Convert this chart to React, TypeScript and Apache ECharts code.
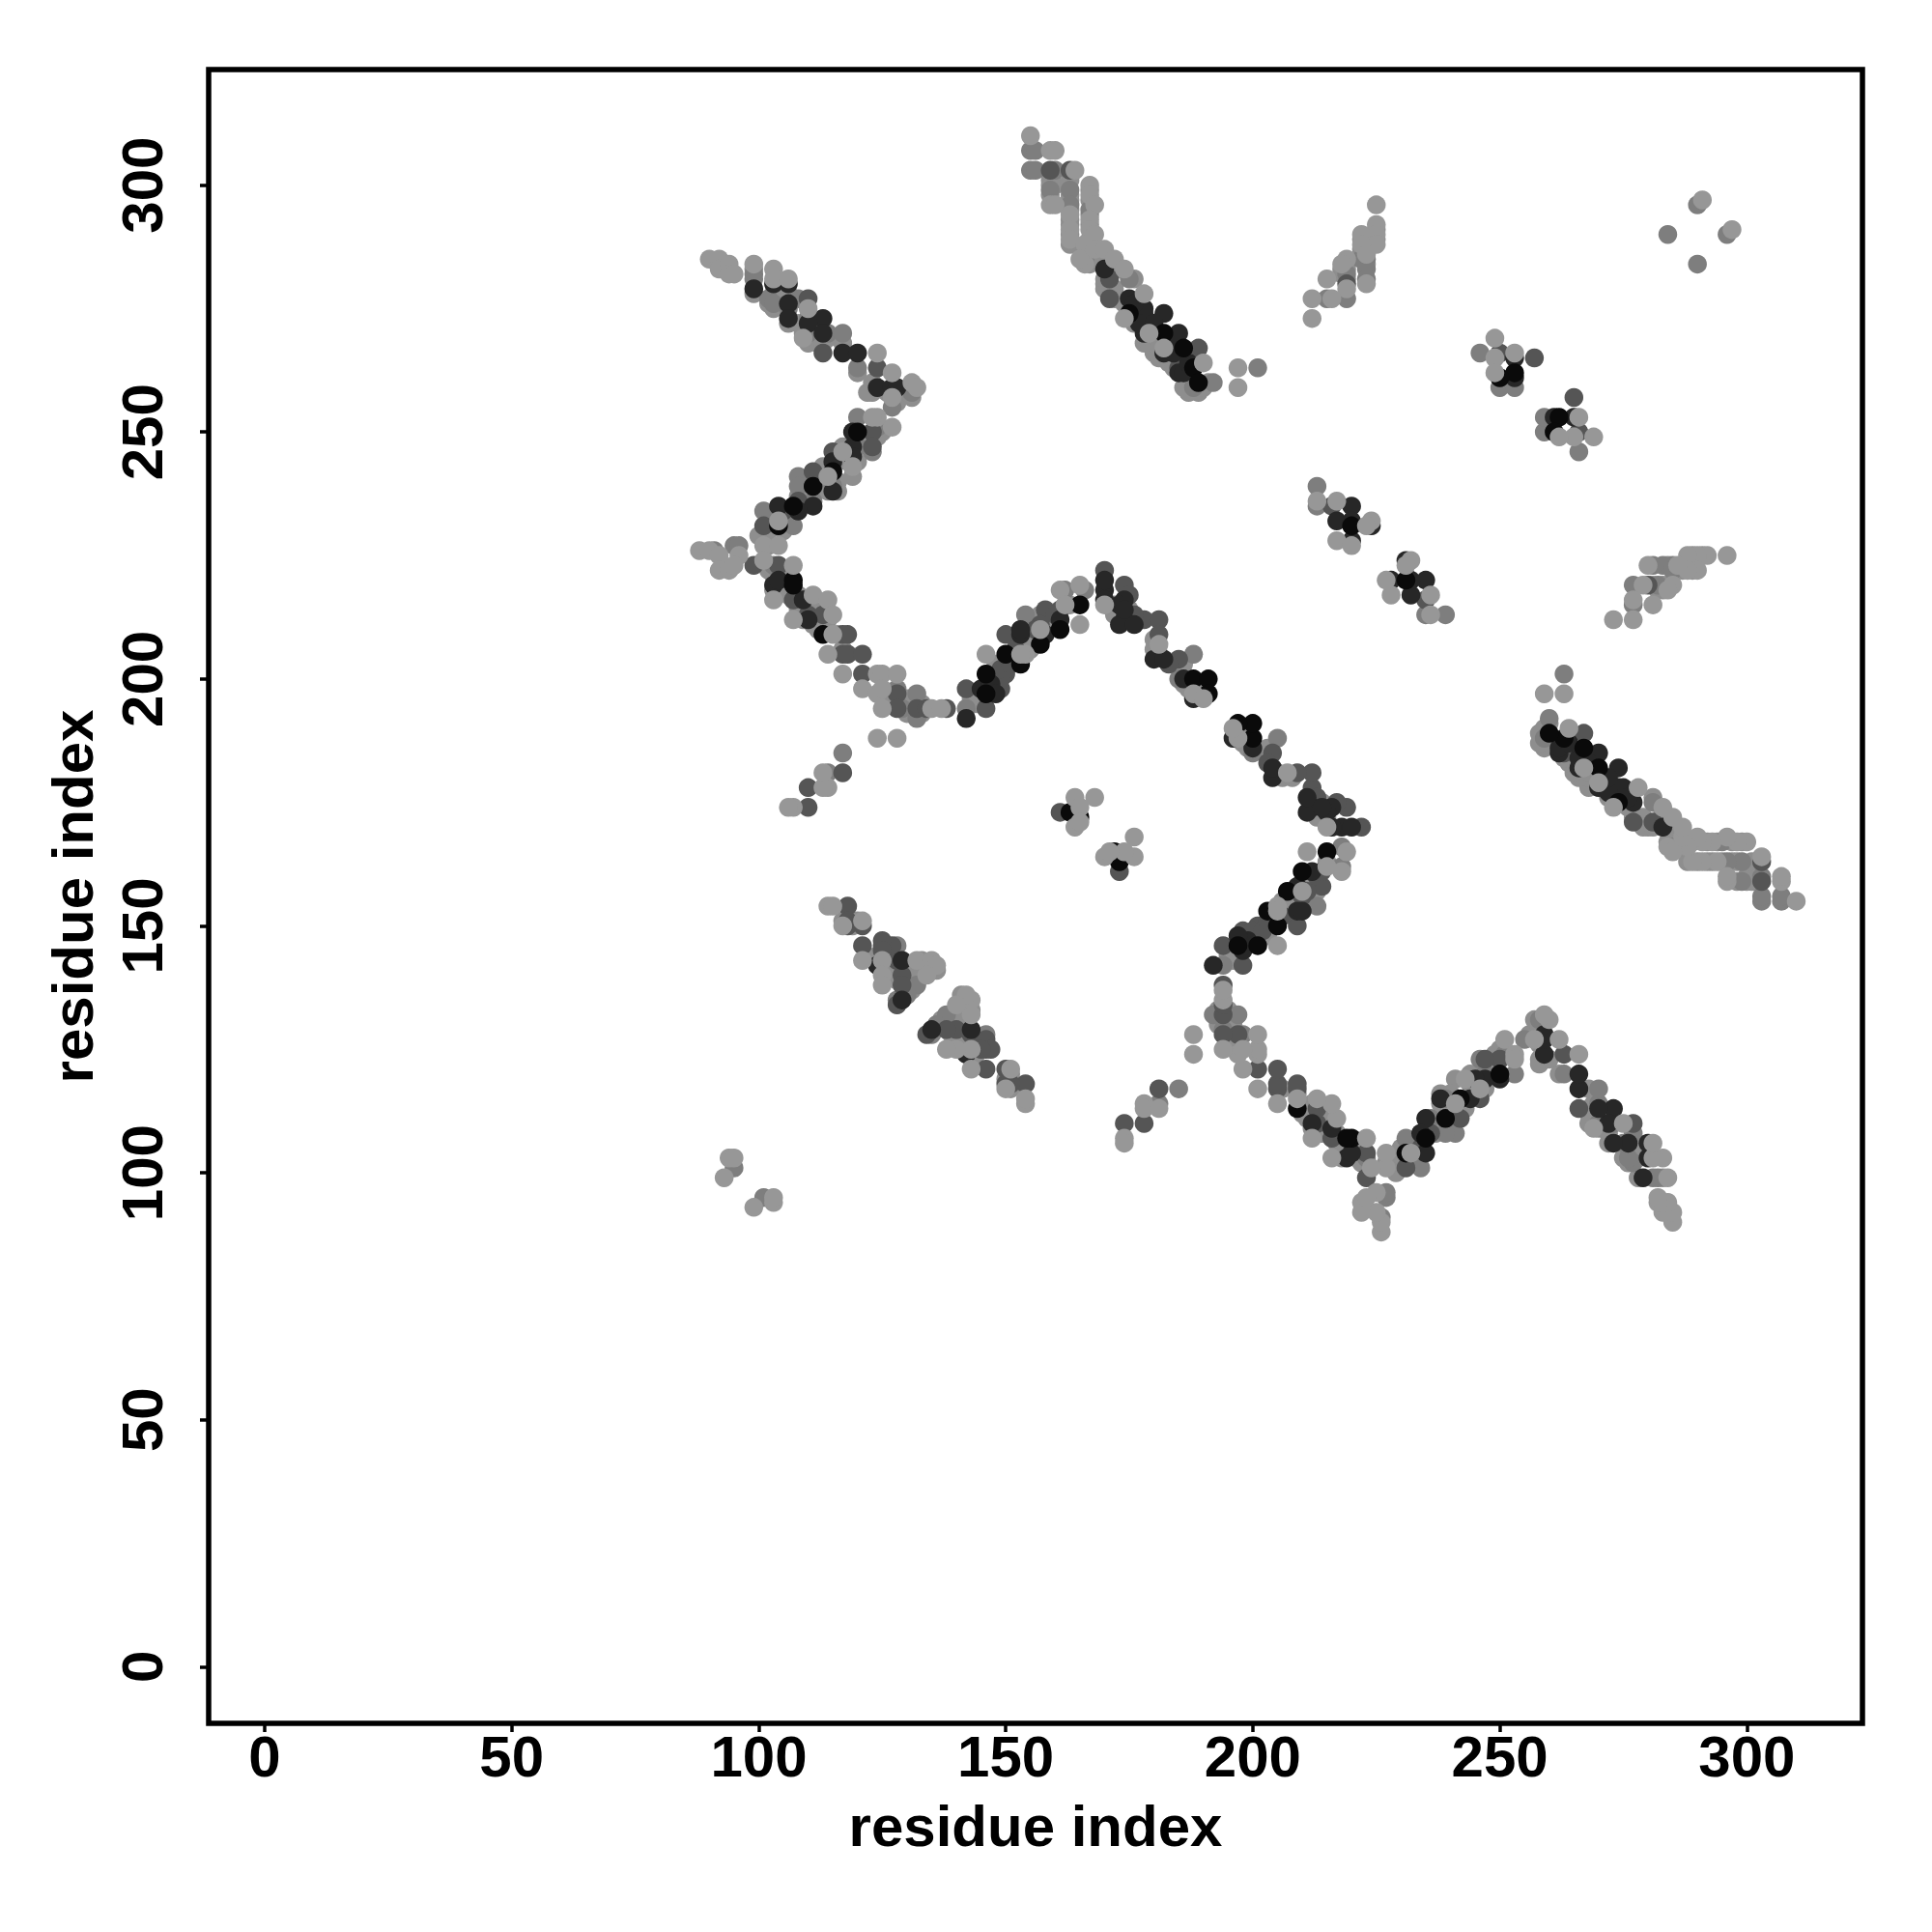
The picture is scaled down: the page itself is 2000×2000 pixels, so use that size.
import React, { useEffect, useRef } from "react";
import * as echarts from "echarts";

// Contact map: every pair is read once, as [i, j] with i < j; the map is symmetric, so [j, i] is drawn too.
const tickValues = [0, 50, 100, 150, 200, 250, 300];
const axisTitle = "residue index";

const underPairs = [
  [99,278],[99,283],[102,276],[103,275],[104,277],[103,278],[106,278],[106,272],[108,272],[109,270],[110,268],[112,268],[113,268],[114,269],[117,268],[120,262],[123,258],[122,258],[123,260],[128,256],[127,258],[126,258],[130,258],[131,257],
  [117,247],[118,244],[119,241],[120,244],[122,248],[124,249],[125,250],[113,240],[113,243],[114,238],[116,240],[116,238],[112,240],[110,240],[108,237],[106,233],[103,233],[102,230],[105,230],[100,229],[102,227],
  [159,301],[159,300],[159,298],[160,300],[163,301],[163,298],[163,297],[163,295],[163,293],[163,292],[163,290],[163,288],[167,299],[167,297],[167,294],[167,292],[167,289],[166,287],[166,286],[167,285],[167,284],[171,285],[172,283],[170,285],[173,283],[176,281],
  [170,280],[170,279],[170,281],[172,279],[172,277],[174,276],[176,275],[176,272],[178,268],[179,268],[180,266],[181,265],[183,264],[184,263],[186,259],[187,258],[189,258],[190,259],[191,260],[180,268],[181,268],
  [223,287],[223,284],[225,289],[225,291],[222,289],[222,287],[222,286],[219,284],[219,283],[219,281],[218,283],[218,282],
  [102,222],[103,221],[103,218],[105,218],[106,217],[105,221],[106,221],[108,214],[108,217],[109,214],[109,212],[111,214],[112,213],[111,211],[112,210],[114,212],[116,209],[117,206],
  [130,196],[130,193],[131,196],[129,196],[126,195],[127,195],[127,197],[133,193],[133,195],[143,196],[144,195],
  [125,141],[126,142],[127,141],[128,139],[131,137],[127,144],[124,144],[130,142],[133,141],[131,140],[133,143],[136,141],[120,151],[117,151],[119,150],
  [172,215],[172,213],[175,214],[180,206],[181,205],[180,208],[186,199],[187,198],[186,203],[189,198],[188,199],[163,215],[159,212],[157,213],[155,206],[155,208],[148,203],[152,208],
];
const lightPairs = [
  [90,285],[92,285],[92,283],[94,284],[94,282],[95,282],[99,284],[103,283],[103,281],[106,281],[110,275],[109,269],[124,266],[127,262],[127,257],[131,260],[132,259],[127,251],[124,253],[123,253],[119,243],[117,246],[114,241],[104,232],[101,227],[104,227],[88,226],[90,226],[92,225],[92,222],[94,222],[96,225],[95,223],[101,224],[107,223],[103,216],[111,217],[114,216],[107,212],[115,213],[115,209],[114,205],[117,201],[124,201],[125,201],[128,201],[121,198],[124,197],[125,198],[125,194],[135,194],[137,194],[124,188],[128,188],[107,174],[106,174],[114,178],[113,178],[113,181],
  [154,205],[153,205],[157,210],[165,211],[165,219],[161,218],[162,215],[146,205],[170,215],[181,207],[188,197],[190,196],
  [164,176],[168,176],[165,174],[164,170],[165,171],
  [155,310],[159,307],[160,307],[164,303],[159,296],[160,296],[163,294],[163,291],[163,289],[167,300],[167,298],[168,296],[167,293],[167,291],[168,290],[166,288],[166,284],[165,285],[168,287],[170,287],[172,285],[174,283],[178,278],[174,273],[179,270],[182,267],[190,264],[197,263],[197,259],
  [225,296],[225,292],[225,290],[225,288],[222,290],[222,288],[223,286],[223,280],[219,285],[218,284],[219,279],[215,281],[212,277],[216,277],[212,273],
  [291,297],[249,269],[253,266],[249,265],[249,262],
  [213,236],[217,236],[217,228],[224,232],[220,227],[223,231],
  [114,154],[115,154],[117,150],[121,151],[121,143],[125,143],[132,143],[135,143],[136,142],[125,140],[125,138],[134,140],
  [93,99],[94,103],[95,103],
];
const midPairs = [
  [99,282],[99,281],[102,277],[103,276],[106,275],[108,277],[110,273],[110,270],[114,270],[117,270],[120,263],[127,255],[131,258],[120,253],[124,251],[123,246],[120,247],[115,239],[108,241],[108,239],[111,236],[107,231],[101,234],[95,227],[96,227],[91,226],[103,223],[128,198],[129,194],[132,197],[132,192],[142,194],[154,213],[162,218],[166,218],[188,205],[185,200],[117,185],[114,181],
  [155,307],[156,307],[155,303],[156,303],[160,303],[159,299],[163,299],[163,296],[167,295],[166,285],[175,281],[188,259],[192,260],[201,263],
  [223,285],[223,283],[223,281],[222,285],[219,282],[215,277],[219,277],[284,290],[290,296],[246,266],[250,259],[253,259],[213,239],[213,235],[128,146],[132,138],[130,136],[128,135],[95,101],
];
const darkPairs = [
  [110,277],[113,266],[124,263],[123,250],[123,247],[115,246],[111,242],[108,236],[105,234],[101,231],[99,223],[104,223],[107,216],[110,213],[113,213],[117,209],[118,209],[117,205],[118,205],[121,205],[121,201],[128,197],[128,194],[132,194],[134,194],[138,194],[142,198],[146,194],[149,198],[150,201],[150,209],[158,214],[157,211],[170,222],[174,219],[178,212],[181,212],[181,209],[185,204],
  [171,281],[171,277],[189,267],[185,263],[159,303],[163,303],[219,280],[250,266],[257,265],[216,235],[110,178],[110,174],[117,181],[161,173],
  [118,154],[118,151],[118,150],[121,150],[121,146],[125,146],[128,143],[129,140],[129,138],[128,134],
  [149,200],[149,202],[151,203],[152,206],[156,210],[160,213],[161,214],[175,217],[176,213],[183,203],[127,146],[125,147],[125,145],
];
const charcoalPairs = [
  [99,279],[103,280],[106,280],[106,276],[106,273],[113,273],[110,272],[113,270],[117,266],[120,266],[124,259],[127,259],[128,259],[119,250],[119,247],[119,245],[115,244],[115,238],[111,235],[108,234],[104,235],[103,219],[104,220],[109,216],[110,212],[153,209],[145,198],[142,192],[161,212],[153,210],[170,218],[170,216],[174,216],[173,215],[174,212],[173,211],[176,211],[180,204],[182,204],[188,196],
  [170,283],[175,277],[178,275],[182,274],[178,274],[178,270],[185,270],[185,262],[182,266],[253,265],[253,261],[220,235],[217,232],[220,232],[220,228],[224,231],[129,143],[124,142],
  [147,199],[148,197],[158,209],[170,220],[174,214],[186,200],[176,276],[177,272],[180,272],[183,268],[184,266],[186,262],[187,264],[129,135],
];
const blackPairs = [
  [120,250],[115,242],[111,239],[107,235],[104,231],[107,220],[107,219],[113,209],[146,197],[146,201],[150,205],[153,203],[157,207],[161,210],[165,215],[165,172],[163,173],[188,200],[191,200],[191,197],[175,274],[182,270],[186,267],[188,263],[189,260],[253,262],[250,261],[220,231],
];

const layers: [number[][], string][] = [
  [underPairs, "#8e8e8e"],
  [midPairs, "#7e7e7e"],
  [darkPairs, "#555555"],
  [charcoalPairs, "#272727"],
  [blackPairs, "#0a0a0a"],
  [lightPairs, "#979797"],
];

const both = (pairs: number[][]) => pairs.concat(pairs.map(([i, j]) => [j, i]));

export default function App() {
  const ref = useRef<HTMLDivElement>(null);
  useEffect(() => {
    const chart = echarts.init(ref.current!, null, { renderer: "svg" });
    const label = { color: "#000", fontFamily: "Liberation Sans", fontWeight: "bold" as const, fontSize: 60 };
    const makeAxis = (extra: object) => ({
      type: "value",
      name: axisTitle,
      nameLocation: "middle",
      nameTextStyle: { ...label, fontSize: 60 },
      splitLine: { show: false },
      axisLine: { show: false, onZero: false },
      axisTick: { show: true, length: 9, customValues: tickValues, lineStyle: { color: "#000", width: 3.5 } },
      ...extra,
    });
    chart.setOption({
      animation: false,
      backgroundColor: "#fff",
      grid: { show: true, left: 216, right: 72, top: 72, bottom: 216, borderColor: "#000", borderWidth: 5.5, containLabel: false },
      xAxis: makeAxis({
        min: -11.34,
        max: 323.4,
        nameGap: 76,
        axisLabel: { ...label, margin: 4, customValues: tickValues },
      }),
      yAxis: makeAxis({
        min: -11.48,
        max: 323.4,
        nameGap: 111,
        axisLabel: { ...label, margin: 39, rotate: 90, customValues: tickValues },
      }),
      series: layers.map(([pairs, color]) => ({
        type: "scatter",
        symbol: "circle",
        symbolSize: 19.5,
        silent: true,
        itemStyle: { color, opacity: 1 },
        data: both(pairs),
      })),
    });
    return () => chart.dispose();
  }, []);
  return <div ref={ref} style={{ position: "absolute", left: 0, top: 0, width: 2000, height: 2000 }} />;
}
